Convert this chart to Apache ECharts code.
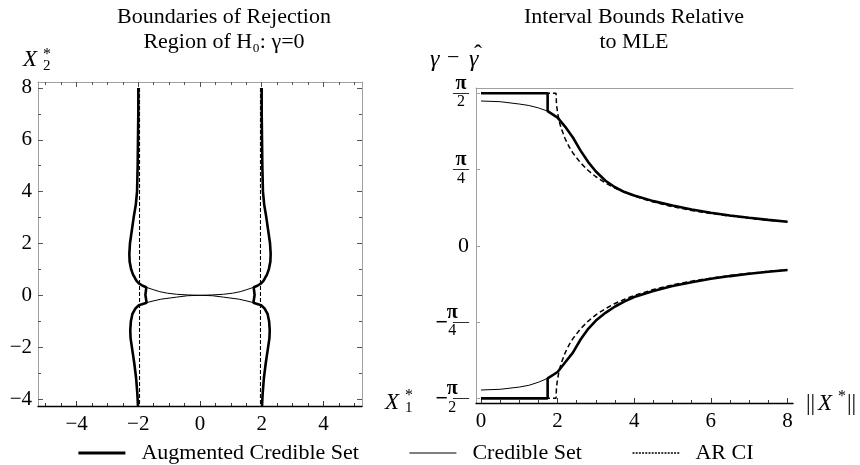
<!DOCTYPE html>
<html><head><meta charset="utf-8">
<script src="https://cdn.jsdelivr.net/npm/echarts@6/dist/echarts.min.js"></script>
<style>html,body{margin:0;padding:0;background:#fff}#c{width:860px;height:465px}</style>
</head><body><div id="c"></div>
<script>
// ---------- Left panel: rejection-region boundaries (left half, X1* < 0; right half is the mirror image) ----------
const leftUpperX = [-2.0, -2.0, -2.01, -2.02, -2.03, -2.04, -2.08, -2.15, -2.21, -2.27, -2.29, -2.28, -2.23, -2.17, -2.10, -2.05, -1.98, -1.86, -1.74, -1.52, -1.30, -1.05, -0.76, -0.4, 0];
const leftUpperY = [8.0, 7.0, 6.0, 5.0, 4.5, 4.0, 3.5, 3.0, 2.5, 2.0, 1.6, 1.3, 1.0, 0.8, 0.65, 0.55, 0.46, 0.37, 0.31, 0.22, 0.14, 0.08, 0.04, 0.015, 0];
const leftLowerX = [0, -0.4, -0.76, -1.27, -1.70, -1.98, -2.10, -2.19, -2.24, -2.26, -2.25, -2.21, -2.13, -2.07, -2.03, -2.01];
const leftLowerY = [0, -0.015, -0.07, -0.15, -0.27, -0.38, -0.52, -0.72, -1.0, -1.35, -1.65, -1.98, -2.62, -3.2, -3.8, -4.27];
const augSegX = [-1.74, -1.77, -1.73];
const augSegY = [0.31, 0.02, -0.29];
const arCritical = 1.96;
const arLineY = [8, -4.27];
const leftXTicks = [-4, -2, 0, 2, 4];
const leftXMinor = [-5, -4.5, -3.5, -3, -2.5, -1.5, -1, -0.5, 0.5, 1, 1.5, 2.5, 3, 3.5, 4.5, 5];
const leftYTicks = [-4, -2, 0, 2, 4, 6, 8];
const leftYMinor = [-3, -1, 1, 3, 5, 7];

// ---------- Right panel: interval bounds relative to MLE vs ||X*|| ----------
const normX = [0, 0.5, 1, 1.25, 1.5, 1.75, 2.0, 2.2, 2.4, 2.6, 2.8, 3.0, 3.25, 3.5, 3.75, 4, 4.5, 5, 5.5, 6, 6.5, 7, 7.5, 8];
const credibleUpper = [1.491, 1.484, 1.46, 1.445, 1.42, 1.385, 1.32, 1.225, 1.115, 0.98, 0.862, 0.765, 0.67, 0.603, 0.553, 0.518, 0.46, 0.415, 0.374, 0.34, 0.312, 0.288, 0.267, 0.248];
const credibleLower = [-1.485, -1.478, -1.455, -1.437, -1.405, -1.363, -1.30, -1.20, -1.10, -0.965, -0.855, -0.77, -0.69, -0.625, -0.572, -0.528, -0.465, -0.415, -0.375, -0.34, -0.312, -0.288, -0.267, -0.249];
const arNormX = [0, 1.96, 1.97, 1.98, 2.0, 2.05, 2.1, 2.2, 2.3, 2.4, 2.6, 2.8, 3.0, 3.25, 3.5, 3.75, 4, 4.5, 5, 5.5, 6, 6.5, 7, 7.5, 8];
const arUpper = [1.571, 1.571, 1.47, 1.43, 1.37, 1.27, 1.204, 1.10, 1.02, 0.956, 0.854, 0.775, 0.711, 0.647, 0.594, 0.55, 0.512, 0.451, 0.403, 0.364, 0.333, 0.306, 0.284, 0.264, 0.248];
const arLower = [-1.571, -1.571, -1.47, -1.43, -1.37, -1.27, -1.204, -1.10, -1.02, -0.956, -0.854, -0.775, -0.711, -0.647, -0.594, -0.55, -0.512, -0.451, -0.403, -0.364, -0.333, -0.306, -0.284, -0.264, -0.248];
const augStartX = [0, 1.74, 1.74];
const augStartUpper = [1.571, 1.571, 1.387];
const augStartLower = [-1.571, -1.571, -1.366];
const rightXTicks = [0, 2, 4, 6, 8];
const rightXMinor = [0.5, 1, 1.5, 2.5, 3, 3.5, 4.5, 5, 5.5, 6.5, 7, 7.5];
const rightYTicks = [-Math.PI / 2, -Math.PI / 4, 0, Math.PI / 4, Math.PI / 2];
const rightYTickLabels = ['−π/2', '−π/4', '0', 'π/4', 'π/2'];

const seriesNames = ['Augmented Credible Set', 'Credible Set', 'AR CI'];

// ---------- build ----------
const FONT = 'Liberation Serif';
const zip = (xs, ys) => xs.map((x, i) => [x, ys[i]]);
const mirror = pts => pts.map(p => [-p[0], p[1]]);

const lUpper = zip(leftUpperX, leftUpperY);   // top-left -> centre
const lLower = zip(leftLowerX, leftLowerY);   // centre -> bottom-left
const upperCurve = lUpper.concat(mirror(lUpper).reverse().slice(1));           // top-left -> centre -> top-right
const lowerCurve = lLower.slice().reverse().concat(mirror(lLower).slice(1));   // bottom-left -> centre -> bottom-right
const augLeft = lUpper.filter(p => p[1] >= augSegY[0])
  .concat(zip(augSegX, augSegY))
  .concat(lLower.filter(p => p[1] < augSegY[augSegY.length - 1]));

const rAugUpper = zip(augStartX, augStartUpper).concat(zip(normX, credibleUpper).filter(p => p[0] > augStartX[2]));
const rAugLower = zip(augStartX, augStartLower).concat(zip(normX, credibleLower).filter(p => p[0] > augStartX[2]));

const thick = { color: '#000', width: 2.6 };
const thin = { color: '#000', width: 1 };
const dashL = { color: '#000', width: 1.1, type: [4, 2] };
const dashR = { color: '#000', width: 1.5, type: [5, 3] };

function line(name, data, style, xi, yi, z) {
  return { type: 'line', name, data, xAxisIndex: xi, yAxisIndex: yi, symbol: 'none', silent: true,
    lineStyle: style, itemStyle: { color: '#000' }, z: z, animation: false };
}

const series = [
  line(seriesNames[2], [[-arCritical, arLineY[0]], [-arCritical, arLineY[1]]], dashL, 0, 0, 2),
  line(seriesNames[2], [[arCritical, arLineY[0]], [arCritical, arLineY[1]]], dashL, 0, 0, 2),
  line(seriesNames[1], upperCurve, thin, 0, 0, 3),
  line(seriesNames[1], lowerCurve, thin, 0, 0, 3),
  line(seriesNames[0], augLeft, thick, 0, 0, 4),
  line(seriesNames[0], mirror(augLeft), thick, 0, 0, 4),
  line(seriesNames[2], zip(arNormX, arUpper), dashR, 4, 4, 2),
  line(seriesNames[2], zip(arNormX, arLower), dashR, 4, 4, 2),
  line(seriesNames[1], zip(normX, credibleUpper), thin, 4, 4, 3),
  line(seriesNames[1], zip(normX, credibleLower), thin, 4, 4, 3),
  line(seriesNames[0], rAugUpper, thick, 4, 4, 4),
  line(seriesNames[0], rAugLower, thick, 4, 4, 4)
];

const GRAY = '#a0a0a0';
const numFmt = v => (v < 0 ? '−' + Math.abs(v) : String(v));
const lbl = { fontFamily: FONT, fontSize: 21, color: '#000' };

function ax(o) {
  return Object.assign({ type: 'value', splitLine: { show: false }, axisPointer: { show: false } }, o);
}
function tickOnly(gridIndex, position, min, max, values, len, color) {
  return ax({ gridIndex, position, min, max,
    axisLine: { show: false, onZero: false },
    axisTick: { show: true, inside: true, length: len, customValues: values, lineStyle: { color, width: 1 } },
    axisLabel: { show: false } });
}

const LX = [-5.25, 5.25], LY = [-4.27, 8.23], RX = [-0.13, 8.146], RY = [-1.619, 1.625];

const xAxis = [
  ax({ gridIndex: 0, position: 'bottom', min: LX[0], max: LX[1],
    axisLine: { show: true, onZero: false, lineStyle: { color: '#000', width: 1.4 } },
    axisTick: { show: true, inside: true, length: 5, customValues: leftXTicks, lineStyle: { color: '#333' } },
    axisLabel: Object.assign({ show: true, customValues: leftXTicks, margin: 8, formatter: numFmt }, lbl) }),
  tickOnly(0, 'bottom', LX[0], LX[1], leftXMinor, 3, '#333'),
  ax({ gridIndex: 0, position: 'top', min: LX[0], max: LX[1],
    axisLine: { show: true, onZero: false, lineStyle: { color: GRAY, width: 1 } },
    axisTick: { show: true, inside: true, length: 5, customValues: leftXTicks, lineStyle: { color: '#555' } },
    axisLabel: { show: false } }),
  tickOnly(0, 'top', LX[0], LX[1], leftXMinor, 3, '#555'),
  ax({ gridIndex: 1, position: 'bottom', min: RX[0], max: RX[1],
    axisLine: { show: true, onZero: false, lineStyle: { color: '#000', width: 1.4 } },
    axisTick: { show: true, inside: true, length: 5, customValues: rightXTicks, lineStyle: { color: '#333' } },
    axisLabel: Object.assign({ show: true, customValues: rightXTicks, margin: 8, formatter: numFmt }, lbl) }),
  tickOnly(1, 'bottom', RX[0], RX[1], rightXMinor, 3, '#333'),
  ax({ gridIndex: 1, position: 'top', min: RX[0], max: RX[1],
    axisLine: { show: true, onZero: false, lineStyle: { color: GRAY, width: 1 } },
    axisTick: { show: false }, axisLabel: { show: false } })
];

function rightYFmt(v) {
  const i = rightYTicks.findIndex(t => Math.abs(t - v) < 1e-6);
  const s = rightYTickLabels[i];
  if (s === undefined) return '';
  if (s === '0') return '{z|0}';
  const neg = s.charAt(0) === '−';
  const den = s.charAt(s.length - 1);
  return '{num|π}\n' + (neg ? '{m|−}' : '') + '{bar|—}\n{den|' + den + '}';
}

const yAxis = [
  ax({ gridIndex: 0, position: 'left', min: LY[0], max: LY[1],
    axisLine: { show: true, onZero: false, lineStyle: { color: GRAY, width: 1 } },
    axisTick: { show: true, inside: true, length: 5, customValues: leftYTicks, lineStyle: { color: '#555' } },
    axisLabel: Object.assign({ show: true, customValues: leftYTicks, margin: 6, formatter: numFmt }, lbl) }),
  tickOnly(0, 'left', LY[0], LY[1], leftYMinor, 3, '#555'),
  ax({ gridIndex: 0, position: 'right', min: LY[0], max: LY[1],
    axisLine: { show: true, onZero: false, lineStyle: { color: GRAY, width: 1 } },
    axisTick: { show: true, inside: true, length: 5, customValues: leftYTicks, lineStyle: { color: '#555' } },
    axisLabel: { show: false } }),
  tickOnly(0, 'right', LY[0], LY[1], leftYMinor, 3, '#555'),
  ax({ gridIndex: 1, position: 'left', min: RY[0], max: RY[1],
    axisLine: { show: true, onZero: false, lineStyle: { color: GRAY, width: 1 } },
    axisTick: { show: true, inside: true, length: 4, customValues: rightYTicks, lineStyle: { color: GRAY } },
    axisLabel: { show: true, customValues: rightYTicks, margin: 7, formatter: rightYFmt,
      rich: {
        num: { fontFamily: FONT, fontSize: 20, fontWeight: 'bold', width: 16, align: 'center', lineHeight: 12, color: '#000' },
        bar: { fontFamily: FONT, fontSize: 16, width: 16, align: 'center', lineHeight: 6, color: '#000' },
        den: { fontFamily: FONT, fontSize: 16, width: 16, align: 'center', lineHeight: 13, color: '#000' },
        m: { fontFamily: FONT, fontSize: 22, fontWeight: 'bold', lineHeight: 6, padding: [3, 5, 0, 0], color: '#000' },
        z: { fontFamily: FONT, fontSize: 22, lineHeight: 22, color: '#000' }
      } } })
];

const T = (text, x, y, size, italic) => ({ type: 'text', x, y, silent: true,
  style: { text, fill: '#000', fontFamily: FONT, fontSize: size, fontStyle: italic ? 'italic' : 'normal' } });

const option = {
  animation: false,
  backgroundColor: '#fff',
  textStyle: { fontFamily: FONT },
  title: [
    { text: 'Boundaries of Rejection\nRegion of H₀: γ=0', left: 224, top: 5, textAlign: 'center', padding: 0,
      textStyle: { fontFamily: FONT, fontSize: 22, fontWeight: 'normal', color: '#000', lineHeight: 25 } },
    { text: 'Interval Bounds Relative\nto MLE', left: 634, top: 5, textAlign: 'center', padding: 0,
      textStyle: { fontFamily: FONT, fontSize: 22, fontWeight: 'normal', color: '#000', lineHeight: 25 } }
  ],
  grid: [
    { left: 38, top: 82, width: 324, height: 324, containLabel: false },
    { left: 476, top: 88, width: 317, height: 315, containLabel: false }
  ],
  xAxis, yAxis, series,
  legend: {
    left: 77, top: 442, padding: 0, itemWidth: 47, itemHeight: 14, itemGap: 50,
    textStyle: { fontFamily: FONT, fontSize: 22, color: '#000' },
    itemStyle: { opacity: 0 },
    formatter: n => '  ' + n,
    selectedMode: false,
    data: [
      { name: seriesNames[0], lineStyle: { type: 'solid', width: 2.8, color: '#000' } },
      { name: seriesNames[1], lineStyle: { type: 'solid', width: 1, color: '#000' } },
      { name: seriesNames[2], lineStyle: { type: [2, 1.2], width: 1.4, color: '#000' } }
    ]
  },
  graphic: [
    T('X', 23, 48, 23, true), T('*', 43, 47, 16, false), T('2', 43, 59, 15, false),
    T('X', 385, 391, 23, true), T('*', 405, 388, 16, false), T('1', 405, 401, 15, false),
    T('γ', 430, 48, 24, true), T('−', 447, 47, 22, false), T('γ', 469, 48, 24, true), T('ˆ', 474, 43, 24, false),
    T('||', 806, 392, 23, false), T('X', 818, 392, 23, true), T('*', 838, 389, 16, false), T('||', 847, 392, 23, false)
  ]
};

const chart = echarts.init(document.getElementById('c'), null, { renderer: 'canvas' });
chart.setOption(option);
</script></body></html>
